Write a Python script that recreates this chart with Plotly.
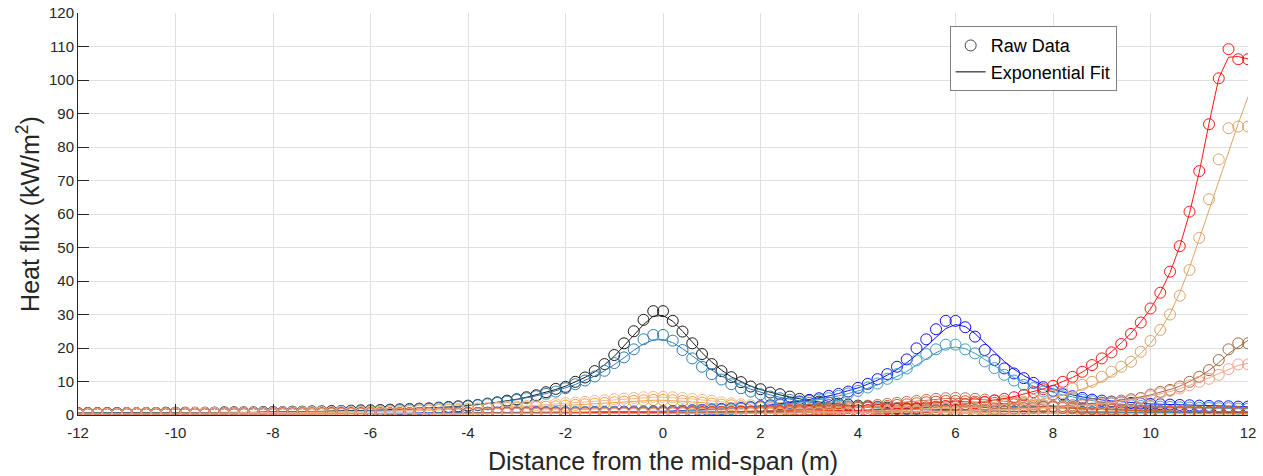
import plotly.graph_objects as go

# ---------------- data ----------------
# distance grid (m), 0.2 m spacing from -12 to 12
distance_m = [round(-12 + 0.2 * i, 1) for i in range(121)]

x_tick_values = [-12, -10, -8, -6, -4, -2, 0, 2, 4, 6, 8, 10, 12]
x_tick_labels = ["-12", "-10", "-8", "-6", "-4", "-2", "0", "2", "4", "6", "8", "10", "12"]
y_tick_values = [0, 10, 20, 30, 40, 50, 60, 70, 80, 90, 100, 110, 120]

black_raw = [
    0.6, 0.6, 0.6, 0.6, 0.6, 0.6, 0.6, 0.6, 0.6, 0.7,
    0.7, 0.7, 0.7, 0.7, 0.7, 0.8, 0.8, 0.8, 0.8, 0.9,
    0.9, 0.9, 1.0, 1.0, 1.1, 1.1, 1.2, 1.2, 1.3, 1.4,
    1.4, 1.5, 1.6, 1.7, 1.8, 1.9, 2.0, 2.2, 2.4, 2.6,
    2.8, 3.0, 3.4, 3.8, 4.3, 4.7, 5.3, 5.9, 6.8, 7.8,
    8.4, 9.9, 11.2, 13.1, 15.2, 17.9, 21.4, 25.0, 28.4, 31.0,
    31.0, 28.1, 24.9, 21.4, 18.2, 15.2, 13.1, 11.3, 9.8, 8.5,
    7.7, 6.7, 6.2, 5.5, 4.8, 4.4, 4.0, 3.7, 3.4, 3.1,
    2.8, 2.6, 2.4, 2.2, 2.0, 1.9, 1.8, 1.7, 1.6, 1.5,
    1.4, 1.3, 1.3, 1.2, 1.2, 1.1, 1.1, 1.0, 1.0, 1.0,
    0.9, 0.9, 0.9, 0.9, 0.8, 0.8, 0.8, 0.8, 0.8, 0.8,
    0.7, 0.7, 0.7, 0.7, 0.7, 0.7, 0.7, 0.7, 0.7, 0.7,
    0.7]
black_fit = [
    0.6, 0.6, 0.6, 0.6, 0.6, 0.6, 0.6, 0.6, 0.6, 0.7,
    0.7, 0.7, 0.7, 0.7, 0.7, 0.8, 0.8, 0.8, 0.8, 0.9,
    0.9, 0.9, 1.0, 1.0, 1.1, 1.1, 1.2, 1.2, 1.3, 1.4,
    1.4, 1.5, 1.6, 1.7, 1.8, 1.9, 2.0, 2.2, 2.4, 2.6,
    2.8, 3.1, 3.4, 3.8, 4.2, 4.7, 5.3, 6.0, 6.7, 7.6,
    8.6, 9.8, 11.2, 12.9, 15.0, 17.5, 20.5, 23.8, 27.0, 29.5,
    29.7, 28.0, 25.0, 21.8, 18.6, 15.8, 13.4, 11.4, 9.9, 8.6,
    7.6, 6.7, 6.0, 5.4, 4.8, 4.3, 3.9, 3.5, 3.2, 2.9,
    2.7, 2.5, 2.3, 2.1, 2.0, 1.9, 1.8, 1.7, 1.6, 1.5,
    1.4, 1.3, 1.3, 1.2, 1.2, 1.1, 1.1, 1.0, 1.0, 1.0,
    0.9, 0.9, 0.9, 0.9, 0.8, 0.8, 0.8, 0.8, 0.8, 0.8,
    0.7, 0.7, 0.7, 0.7, 0.7, 0.7, 0.7, 0.7, 0.7, 0.7,
    0.7]

steel_raw = [
    0.5, 0.5, 0.5, 0.5, 0.5, 0.5, 0.5, 0.6, 0.6, 0.6,
    0.6, 0.6, 0.6, 0.6, 0.7, 0.7, 0.7, 0.7, 0.7, 0.8,
    0.8, 0.8, 0.9, 0.9, 0.9, 1.0, 1.0, 1.1, 1.1, 1.2,
    1.2, 1.3, 1.4, 1.5, 1.6, 1.7, 1.8, 2.0, 2.2, 2.4,
    2.6, 2.9, 3.2, 3.6, 4.0, 4.5, 5.0, 5.6, 6.3, 7.0,
    8.0, 9.2, 10.3, 11.5, 13.2, 15.5, 17.2, 19.6, 22.6, 23.9,
    23.9, 22.2, 19.4, 16.9, 14.4, 12.2, 10.6, 9.2, 8.0, 7.0,
    6.2, 5.5, 5.0, 4.5, 4.0, 3.6, 3.3, 3.0, 2.8, 2.6,
    2.4, 2.2, 2.0, 1.9, 1.8, 1.7, 1.6, 1.5, 1.4, 1.3,
    1.3, 1.2, 1.2, 1.1, 1.1, 1.0, 1.0, 1.0, 0.9, 0.9,
    0.9, 0.9, 0.8, 0.8, 0.8, 0.8, 0.8, 0.7, 0.7, 0.7,
    0.7, 0.7, 0.7, 0.7, 0.6, 0.6, 0.6, 0.6, 0.6, 0.6,
    0.6]
steel_fit = [
    0.5, 0.5, 0.5, 0.5, 0.5, 0.5, 0.5, 0.6, 0.6, 0.6,
    0.6, 0.6, 0.6, 0.6, 0.7, 0.7, 0.7, 0.7, 0.7, 0.8,
    0.8, 0.8, 0.9, 0.9, 0.9, 1.0, 1.0, 1.1, 1.1, 1.2,
    1.2, 1.3, 1.4, 1.5, 1.6, 1.7, 1.8, 2.0, 2.2, 2.4,
    2.7, 3.0, 3.3, 3.7, 4.1, 4.6, 5.1, 5.7, 6.4, 7.2,
    8.1, 9.1, 10.3, 11.6, 13.2, 15.0, 17.1, 19.3, 21.2, 22.4,
    22.5, 21.6, 19.8, 17.6, 15.4, 13.4, 11.6, 10.1, 8.8, 7.7,
    6.8, 6.0, 5.3, 4.7, 4.2, 3.8, 3.4, 3.1, 2.8, 2.6,
    2.4, 2.2, 2.0, 1.9, 1.8, 1.7, 1.6, 1.5, 1.4, 1.3,
    1.3, 1.2, 1.2, 1.1, 1.1, 1.0, 1.0, 1.0, 0.9, 0.9,
    0.9, 0.9, 0.8, 0.8, 0.8, 0.8, 0.8, 0.7, 0.7, 0.7,
    0.7, 0.7, 0.7, 0.7, 0.6, 0.6, 0.6, 0.6, 0.6, 0.6,
    0.6]

orange_raw = [
    0.4, 0.4, 0.4, 0.4, 0.4, 0.4, 0.4, 0.4, 0.4, 0.4,
    0.5, 0.5, 0.5, 0.5, 0.5, 0.5, 0.5, 0.5, 0.6, 0.6,
    0.6, 0.6, 0.6, 0.7, 0.7, 0.7, 0.8, 0.8, 0.9, 0.9,
    1.0, 1.0, 1.1, 1.1, 1.2, 1.3, 1.4, 1.5, 1.6, 1.6,
    1.7, 1.8, 1.9, 2.0, 2.1, 2.2, 2.3, 2.4, 2.5, 2.6,
    2.8, 3.0, 3.2, 3.4, 3.6, 3.8, 4.0, 4.2, 4.4, 4.5,
    4.5, 4.4, 4.2, 3.9, 3.7, 3.4, 3.1, 2.9, 2.6, 2.4,
    2.2, 2.0, 1.9, 1.7, 1.6, 1.5, 1.4, 1.3, 1.2, 1.1,
    1.0, 1.0, 0.9, 0.9, 0.8, 0.8, 0.8, 0.7, 0.7, 0.7,
    0.6, 0.6, 0.6, 0.6, 0.5, 0.5, 0.5, 0.5, 0.5, 0.5,
    0.4, 0.4, 0.4, 0.4, 0.4, 0.4, 0.4, 0.4, 0.4, 0.4,
    0.3, 0.3, 0.3, 0.3, 0.3, 0.3, 0.3, 0.3, 0.3, 0.3,
    0.3]
orange_fit = [
    0.4, 0.4, 0.4, 0.4, 0.4, 0.4, 0.4, 0.4, 0.4, 0.4,
    0.5, 0.5, 0.5, 0.5, 0.5, 0.5, 0.5, 0.5, 0.6, 0.6,
    0.6, 0.6, 0.6, 0.7, 0.7, 0.7, 0.8, 0.8, 0.9, 0.9,
    1.0, 1.0, 1.1, 1.1, 1.2, 1.3, 1.4, 1.5, 1.5, 1.6,
    1.7, 1.8, 1.9, 2.0, 2.1, 2.2, 2.3, 2.4, 2.5, 2.7,
    2.8, 3.0, 3.2, 3.4, 3.6, 3.8, 4.0, 4.2, 4.3, 4.4,
    4.4, 4.3, 4.1, 3.9, 3.7, 3.4, 3.1, 2.9, 2.6, 2.4,
    2.2, 2.0, 1.9, 1.7, 1.6, 1.5, 1.4, 1.3, 1.2, 1.1,
    1.0, 1.0, 0.9, 0.9, 0.8, 0.8, 0.8, 0.7, 0.7, 0.7,
    0.6, 0.6, 0.6, 0.6, 0.5, 0.5, 0.5, 0.5, 0.5, 0.5,
    0.4, 0.4, 0.4, 0.4, 0.4, 0.4, 0.4, 0.4, 0.4, 0.4,
    0.3, 0.3, 0.3, 0.3, 0.3, 0.3, 0.3, 0.3, 0.3, 0.3,
    0.3]

peach_raw = [
    0.4, 0.4, 0.4, 0.4, 0.4, 0.5, 0.5, 0.5, 0.5, 0.5,
    0.5, 0.5, 0.6, 0.6, 0.6, 0.6, 0.6, 0.7, 0.7, 0.7,
    0.7, 0.8, 0.8, 0.8, 0.9, 0.9, 0.9, 1.0, 1.0, 1.0,
    1.0, 1.1, 1.1, 1.2, 1.3, 1.4, 1.5, 1.6, 1.7, 1.8,
    1.9, 2.0, 2.1, 2.2, 2.4, 2.5, 2.7, 2.9, 3.1, 3.3,
    3.5, 3.7, 3.9, 4.2, 4.4, 4.7, 4.9, 5.1, 5.3, 5.4,
    5.4, 5.3, 5.1, 4.8, 4.5, 4.2, 3.8, 3.5, 3.2, 2.9,
    2.6, 2.4, 2.2, 2.0, 1.8, 1.7, 1.6, 1.5, 1.4, 1.3,
    1.2, 1.1, 1.1, 1.0, 1.0, 0.9, 0.9, 0.9, 0.8, 0.8,
    0.8, 0.7, 0.7, 0.7, 0.7, 0.6, 0.6, 0.6, 0.6, 0.6,
    0.5, 0.5, 0.5, 0.5, 0.5, 0.5, 0.5, 0.5, 0.5, 0.5,
    0.5, 0.5, 0.5, 0.4, 0.4, 0.4, 0.4, 0.4, 0.4, 0.4,
    0.4]
peach_fit = [
    0.4, 0.4, 0.4, 0.4, 0.4, 0.5, 0.5, 0.5, 0.5, 0.5,
    0.5, 0.5, 0.6, 0.6, 0.6, 0.6, 0.6, 0.7, 0.7, 0.7,
    0.7, 0.8, 0.8, 0.8, 0.9, 0.9, 0.9, 1.0, 1.0, 1.0,
    1.0, 1.1, 1.1, 1.2, 1.3, 1.4, 1.5, 1.6, 1.7, 1.8,
    1.9, 2.0, 2.1, 2.2, 2.4, 2.5, 2.7, 2.9, 3.1, 3.3,
    3.5, 3.7, 3.9, 4.1, 4.4, 4.6, 4.8, 5.0, 5.2, 5.3,
    5.3, 5.2, 5.0, 4.8, 4.5, 4.2, 3.8, 3.5, 3.2, 2.9,
    2.6, 2.4, 2.2, 2.0, 1.8, 1.7, 1.6, 1.5, 1.4, 1.3,
    1.2, 1.1, 1.1, 1.0, 1.0, 0.9, 0.9, 0.9, 0.8, 0.8,
    0.8, 0.7, 0.7, 0.7, 0.7, 0.6, 0.6, 0.6, 0.6, 0.6,
    0.5, 0.5, 0.5, 0.5, 0.5, 0.5, 0.5, 0.5, 0.5, 0.5,
    0.5, 0.5, 0.5, 0.4, 0.4, 0.4, 0.4, 0.4, 0.4, 0.4,
    0.4]

blue_raw = [
    0.3, 0.3, 0.3, 0.3, 0.3, 0.3, 0.3, 0.3, 0.3, 0.3,
    0.3, 0.3, 0.3, 0.3, 0.3, 0.4, 0.4, 0.4, 0.4, 0.4,
    0.4, 0.4, 0.4, 0.4, 0.4, 0.4, 0.5, 0.5, 0.5, 0.5,
    0.5, 0.5, 0.5, 0.5, 0.5, 0.6, 0.6, 0.6, 0.6, 0.6,
    0.6, 0.6, 0.7, 0.7, 0.7, 0.7, 0.7, 0.8, 0.8, 0.8,
    0.8, 0.8, 0.8, 0.9, 0.9, 0.9, 1.0, 1.0, 1.0, 1.1,
    1.1, 1.2, 1.3, 1.4, 1.5, 1.6, 1.8, 1.9, 2.1, 2.3,
    2.6, 2.9, 3.2, 3.6, 4.0, 4.5, 5.0, 5.7, 6.3, 7.0,
    8.1, 9.3, 10.7, 12.2, 14.4, 16.6, 19.9, 22.6, 25.6, 28.1,
    28.1, 26.2, 23.4, 19.4, 16.4, 13.9, 12.4, 11.0, 9.6, 8.3,
    7.2, 6.2, 5.6, 5.1, 4.6, 4.3, 4.0, 3.8, 3.6, 3.4,
    3.3, 3.2, 3.1, 3.0, 2.9, 2.8, 2.7, 2.6, 2.6, 2.5,
    2.5]
blue_fit = [
    0.3, 0.3, 0.3, 0.3, 0.3, 0.3, 0.3, 0.3, 0.3, 0.3,
    0.3, 0.3, 0.3, 0.3, 0.3, 0.4, 0.4, 0.4, 0.4, 0.4,
    0.4, 0.4, 0.4, 0.4, 0.4, 0.4, 0.5, 0.5, 0.5, 0.5,
    0.5, 0.5, 0.5, 0.5, 0.5, 0.6, 0.6, 0.6, 0.6, 0.6,
    0.6, 0.6, 0.7, 0.7, 0.7, 0.7, 0.7, 0.8, 0.8, 0.8,
    0.8, 0.8, 0.8, 0.9, 0.9, 0.9, 1.0, 1.0, 1.0, 1.1,
    1.1, 1.2, 1.3, 1.4, 1.5, 1.6, 1.8, 1.9, 2.1, 2.3,
    2.6, 2.9, 3.3, 3.7, 4.1, 4.6, 5.1, 5.7, 6.4, 7.2,
    8.1, 9.2, 10.4, 11.9, 13.6, 15.6, 17.9, 20.5, 23.3, 25.8,
    27.0, 26.4, 24.3, 21.5, 18.6, 16.0, 13.7, 11.8, 10.2, 8.8,
    7.7, 6.8, 6.0, 5.4, 4.9, 4.5, 4.2, 3.9, 3.7, 3.5,
    3.3, 3.2, 3.1, 3.0, 2.9, 2.8, 2.7, 2.6, 2.6, 2.5,
    2.5]

teal_raw = [
    0.3, 0.3, 0.3, 0.3, 0.3, 0.3, 0.3, 0.3, 0.3, 0.3,
    0.3, 0.3, 0.3, 0.3, 0.3, 0.3, 0.3, 0.4, 0.4, 0.4,
    0.4, 0.4, 0.4, 0.4, 0.4, 0.4, 0.4, 0.5, 0.5, 0.5,
    0.5, 0.5, 0.5, 0.5, 0.5, 0.5, 0.6, 0.6, 0.6, 0.6,
    0.6, 0.6, 0.6, 0.7, 0.7, 0.7, 0.7, 0.7, 0.8, 0.8,
    0.8, 0.8, 0.8, 0.8, 0.9, 0.9, 0.9, 1.0, 1.0, 1.0,
    1.0, 1.1, 1.2, 1.3, 1.4, 1.5, 1.6, 1.7, 1.9, 2.1,
    2.4, 2.7, 3.0, 3.4, 3.8, 4.2, 4.6, 5.0, 5.7, 6.4,
    7.2, 8.2, 9.4, 10.8, 12.2, 13.9, 16.3, 18.2, 19.6, 21.0,
    21.0, 19.6, 18.4, 16.0, 14.0, 12.0, 10.3, 9.0, 8.0, 7.0,
    6.2, 5.6, 5.0, 4.5, 4.1, 3.7, 3.4, 3.1, 2.9, 2.7,
    2.6, 2.5, 2.4, 2.3, 2.2, 2.1, 2.1, 2.0, 2.0, 1.9,
    1.9]
teal_fit = [
    0.3, 0.3, 0.3, 0.3, 0.3, 0.3, 0.3, 0.3, 0.3, 0.3,
    0.3, 0.3, 0.3, 0.3, 0.3, 0.3, 0.3, 0.4, 0.4, 0.4,
    0.4, 0.4, 0.4, 0.4, 0.4, 0.4, 0.4, 0.5, 0.5, 0.5,
    0.5, 0.5, 0.5, 0.5, 0.5, 0.5, 0.6, 0.6, 0.6, 0.6,
    0.6, 0.6, 0.6, 0.7, 0.7, 0.7, 0.7, 0.7, 0.8, 0.8,
    0.8, 0.8, 0.8, 0.8, 0.9, 0.9, 0.9, 1.0, 1.0, 1.0,
    1.0, 1.1, 1.2, 1.3, 1.4, 1.5, 1.6, 1.7, 1.9, 2.1,
    2.4, 2.7, 3.0, 3.3, 3.7, 4.1, 4.6, 5.1, 5.7, 6.4,
    7.1, 8.0, 9.0, 10.2, 11.5, 13.0, 14.8, 16.8, 18.6, 19.9,
    20.3, 19.8, 18.4, 16.6, 14.6, 12.8, 11.2, 9.8, 8.6, 7.6,
    6.7, 6.0, 5.4, 4.8, 4.3, 3.9, 3.5, 3.2, 3.0, 2.8,
    2.6, 2.5, 2.4, 2.3, 2.2, 2.1, 2.1, 2.0, 2.0, 1.9,
    1.9]

rosy_raw = [
    0.3, 0.3, 0.3, 0.3, 0.3, 0.3, 0.3, 0.3, 0.3, 0.3,
    0.3, 0.3, 0.3, 0.3, 0.3, 0.3, 0.3, 0.3, 0.3, 0.3,
    0.4, 0.4, 0.4, 0.4, 0.4, 0.4, 0.4, 0.4, 0.4, 0.4,
    0.4, 0.4, 0.4, 0.5, 0.5, 0.5, 0.5, 0.5, 0.5, 0.5,
    0.6, 0.6, 0.6, 0.6, 0.6, 0.6, 0.6, 0.6, 0.6, 0.6,
    0.6, 0.6, 0.7, 0.7, 0.7, 0.7, 0.7, 0.8, 0.8, 0.8,
    0.8, 0.8, 0.9, 0.9, 0.9, 1.0, 1.0, 1.0, 1.1, 1.1,
    1.2, 1.3, 1.4, 1.5, 1.6, 1.7, 1.9, 2.0, 2.2, 2.4,
    2.6, 2.8, 3.0, 3.3, 3.6, 3.9, 4.2, 4.5, 4.8, 5.0,
    5.1, 5.0, 4.8, 4.6, 4.4, 4.1, 3.8, 3.5, 3.2, 2.9,
    2.7, 2.5, 2.3, 2.1, 1.9, 1.8, 1.7, 1.6, 1.5, 1.4,
    1.3, 1.2, 1.2, 1.1, 1.1, 1.0, 1.0, 1.0, 0.9, 0.9,
    0.9]
rosy_fit = [
    0.3, 0.3, 0.3, 0.3, 0.3, 0.3, 0.3, 0.3, 0.3, 0.3,
    0.3, 0.3, 0.3, 0.3, 0.3, 0.3, 0.3, 0.3, 0.3, 0.3,
    0.4, 0.4, 0.4, 0.4, 0.4, 0.4, 0.4, 0.4, 0.4, 0.4,
    0.4, 0.4, 0.4, 0.5, 0.5, 0.5, 0.5, 0.5, 0.5, 0.5,
    0.6, 0.6, 0.6, 0.6, 0.6, 0.6, 0.6, 0.6, 0.6, 0.6,
    0.6, 0.6, 0.7, 0.7, 0.7, 0.7, 0.7, 0.8, 0.8, 0.8,
    0.8, 0.8, 0.9, 0.9, 0.9, 1.0, 1.0, 1.0, 1.1, 1.1,
    1.2, 1.3, 1.4, 1.5, 1.6, 1.7, 1.9, 2.0, 2.2, 2.4,
    2.6, 2.8, 3.0, 3.3, 3.6, 3.9, 4.2, 4.4, 4.7, 4.9,
    5.0, 4.9, 4.8, 4.6, 4.4, 4.1, 3.8, 3.5, 3.2, 2.9,
    2.7, 2.5, 2.3, 2.1, 1.9, 1.8, 1.7, 1.6, 1.5, 1.4,
    1.3, 1.2, 1.2, 1.1, 1.1, 1.0, 1.0, 1.0, 0.9, 0.9,
    0.9]

darkorange_raw = [
    0.3, 0.3, 0.3, 0.3, 0.3, 0.3, 0.3, 0.3, 0.3, 0.3,
    0.3, 0.3, 0.3, 0.3, 0.3, 0.3, 0.3, 0.3, 0.3, 0.3,
    0.3, 0.3, 0.3, 0.3, 0.3, 0.4, 0.4, 0.4, 0.4, 0.4,
    0.4, 0.4, 0.4, 0.4, 0.4, 0.4, 0.4, 0.4, 0.4, 0.4,
    0.5, 0.5, 0.5, 0.5, 0.5, 0.5, 0.5, 0.5, 0.5, 0.5,
    0.5, 0.5, 0.6, 0.6, 0.6, 0.6, 0.6, 0.7, 0.7, 0.7,
    0.7, 0.7, 0.8, 0.8, 0.8, 0.9, 0.9, 0.9, 1.0, 1.0,
    1.0, 1.1, 1.2, 1.3, 1.4, 1.5, 1.6, 1.7, 1.8, 2.0,
    2.1, 2.3, 2.5, 2.7, 3.0, 3.2, 3.5, 3.8, 4.0, 4.2,
    4.2, 4.1, 4.0, 3.8, 3.6, 3.4, 3.2, 2.9, 2.7, 2.5,
    2.3, 2.1, 2.0, 1.8, 1.7, 1.6, 1.5, 1.4, 1.3, 1.2,
    1.1, 1.1, 1.0, 1.0, 1.0, 0.9, 0.9, 0.9, 0.9, 0.8,
    0.8]
darkorange_fit = [
    0.3, 0.3, 0.3, 0.3, 0.3, 0.3, 0.3, 0.3, 0.3, 0.3,
    0.3, 0.3, 0.3, 0.3, 0.3, 0.3, 0.3, 0.3, 0.3, 0.3,
    0.3, 0.3, 0.3, 0.3, 0.3, 0.4, 0.4, 0.4, 0.4, 0.4,
    0.4, 0.4, 0.4, 0.4, 0.4, 0.4, 0.4, 0.4, 0.4, 0.4,
    0.5, 0.5, 0.5, 0.5, 0.5, 0.5, 0.5, 0.5, 0.5, 0.5,
    0.5, 0.5, 0.6, 0.6, 0.6, 0.6, 0.6, 0.7, 0.7, 0.7,
    0.7, 0.7, 0.8, 0.8, 0.8, 0.9, 0.9, 0.9, 1.0, 1.0,
    1.0, 1.1, 1.2, 1.3, 1.4, 1.5, 1.6, 1.7, 1.8, 2.0,
    2.1, 2.3, 2.5, 2.7, 2.9, 3.2, 3.4, 3.7, 3.9, 4.1,
    4.1, 4.0, 3.9, 3.8, 3.6, 3.4, 3.2, 2.9, 2.7, 2.5,
    2.3, 2.1, 2.0, 1.8, 1.7, 1.6, 1.5, 1.4, 1.3, 1.2,
    1.1, 1.1, 1.0, 1.0, 1.0, 0.9, 0.9, 0.9, 0.9, 0.8,
    0.8]

red_raw = [
    0.3, 0.3, 0.3, 0.3, 0.3, 0.3, 0.3, 0.3, 0.3, 0.3,
    0.3, 0.3, 0.3, 0.3, 0.3, 0.3, 0.3, 0.3, 0.3, 0.3,
    0.3, 0.3, 0.3, 0.3, 0.3, 0.4, 0.4, 0.4, 0.4, 0.4,
    0.4, 0.4, 0.4, 0.4, 0.4, 0.4, 0.4, 0.4, 0.4, 0.4,
    0.4, 0.4, 0.4, 0.5, 0.5, 0.5, 0.5, 0.5, 0.5, 0.5,
    0.5, 0.5, 0.6, 0.6, 0.6, 0.6, 0.6, 0.6, 0.6, 0.7,
    0.7, 0.7, 0.7, 0.7, 0.8, 0.8, 0.8, 0.8, 0.9, 0.9,
    0.9, 1.0, 1.0, 1.0, 1.1, 1.1, 1.2, 1.2, 1.3, 1.3,
    1.4, 1.5, 1.6, 1.7, 1.8, 2.0, 2.1, 2.3, 2.5, 2.7,
    2.9, 3.2, 3.5, 3.9, 4.3, 4.8, 5.3, 6.0, 6.8, 7.7,
    8.7, 9.9, 11.4, 12.9, 14.9, 16.9, 18.7, 21.2, 24.2, 27.6,
    31.8, 36.5, 42.8, 50.4, 60.7, 72.8, 86.8, 100.5, 109.2, 106.2,
    106.2]
red_fit = [
    0.3, 0.3, 0.3, 0.3, 0.3, 0.3, 0.3, 0.3, 0.3, 0.3,
    0.3, 0.3, 0.3, 0.3, 0.3, 0.3, 0.3, 0.3, 0.3, 0.3,
    0.3, 0.3, 0.3, 0.3, 0.3, 0.4, 0.4, 0.4, 0.4, 0.4,
    0.4, 0.4, 0.4, 0.4, 0.4, 0.4, 0.4, 0.4, 0.4, 0.4,
    0.4, 0.4, 0.4, 0.5, 0.5, 0.5, 0.5, 0.5, 0.5, 0.5,
    0.5, 0.5, 0.6, 0.6, 0.6, 0.6, 0.6, 0.6, 0.6, 0.7,
    0.7, 0.7, 0.7, 0.7, 0.8, 0.8, 0.8, 0.8, 0.9, 0.9,
    0.9, 1.0, 1.0, 1.0, 1.1, 1.1, 1.2, 1.2, 1.3, 1.3,
    1.4, 1.5, 1.6, 1.7, 1.8, 2.0, 2.1, 2.3, 2.5, 2.7,
    3.0, 3.3, 3.6, 4.0, 4.4, 4.9, 5.5, 6.2, 7.0, 7.8,
    8.8, 9.9, 11.2, 12.8, 14.6, 16.6, 18.9, 21.5, 24.4, 27.8,
    31.7, 36.5, 42.5, 50.3, 60.2, 72.5, 87.0, 100.5, 106.8, 107.0,
    106.3]

tan_raw = [
    0.3, 0.3, 0.3, 0.3, 0.3, 0.3, 0.3, 0.3, 0.3, 0.3,
    0.3, 0.3, 0.3, 0.3, 0.3, 0.3, 0.3, 0.3, 0.3, 0.3,
    0.3, 0.3, 0.3, 0.3, 0.3, 0.3, 0.3, 0.3, 0.3, 0.3,
    0.4, 0.4, 0.4, 0.4, 0.4, 0.4, 0.4, 0.4, 0.4, 0.4,
    0.4, 0.4, 0.4, 0.4, 0.4, 0.4, 0.4, 0.4, 0.4, 0.4,
    0.5, 0.5, 0.5, 0.5, 0.5, 0.5, 0.5, 0.5, 0.5, 0.5,
    0.5, 0.5, 0.6, 0.6, 0.6, 0.6, 0.7, 0.7, 0.7, 0.7,
    0.8, 0.8, 0.8, 0.9, 0.9, 0.9, 1.0, 1.0, 1.0, 1.0,
    1.0, 1.1, 1.1, 1.2, 1.3, 1.4, 1.5, 1.6, 1.7, 1.8,
    1.9, 2.0, 2.2, 2.4, 2.7, 3.0, 3.4, 3.9, 4.5, 5.2,
    5.9, 6.6, 7.9, 9.0, 9.9, 11.4, 12.9, 14.4, 15.9, 18.9,
    22.1, 25.4, 30.0, 35.6, 43.3, 52.9, 64.4, 76.3, 85.6, 86.1,
    86.1]
tan_fit = [
    0.3, 0.3, 0.3, 0.3, 0.3, 0.3, 0.3, 0.3, 0.3, 0.3,
    0.3, 0.3, 0.3, 0.3, 0.3, 0.3, 0.3, 0.3, 0.3, 0.3,
    0.3, 0.3, 0.3, 0.3, 0.3, 0.3, 0.3, 0.3, 0.3, 0.3,
    0.4, 0.4, 0.4, 0.4, 0.4, 0.4, 0.4, 0.4, 0.4, 0.4,
    0.4, 0.4, 0.4, 0.4, 0.4, 0.4, 0.4, 0.4, 0.4, 0.4,
    0.5, 0.5, 0.5, 0.5, 0.5, 0.5, 0.5, 0.5, 0.5, 0.5,
    0.5, 0.5, 0.6, 0.6, 0.6, 0.6, 0.7, 0.7, 0.7, 0.7,
    0.8, 0.8, 0.8, 0.9, 0.9, 0.9, 1.0, 1.0, 1.0, 1.0,
    1.0, 1.1, 1.1, 1.2, 1.3, 1.4, 1.5, 1.6, 1.7, 1.8,
    1.9, 2.1, 2.3, 2.5, 2.8, 3.1, 3.5, 3.9, 4.3, 4.8,
    5.2, 5.9, 6.7, 7.7, 8.8, 10.1, 11.7, 13.6, 15.8, 18.4,
    21.4, 25.3, 30.2, 36.5, 44.0, 52.5, 61.3, 70.0, 78.5, 87.0,
    95.0]

brown_raw = [
    0.3, 0.3, 0.3, 0.3, 0.3, 0.3, 0.3, 0.3, 0.3, 0.3,
    0.3, 0.3, 0.3, 0.3, 0.3, 0.3, 0.3, 0.3, 0.3, 0.3,
    0.4, 0.4, 0.4, 0.4, 0.4, 0.4, 0.4, 0.4, 0.4, 0.4,
    0.4, 0.4, 0.4, 0.4, 0.4, 0.4, 0.4, 0.4, 0.4, 0.4,
    0.5, 0.5, 0.5, 0.5, 0.5, 0.5, 0.5, 0.5, 0.5, 0.5,
    0.5, 0.5, 0.5, 0.5, 0.5, 0.5, 0.5, 0.5, 0.5, 0.5,
    0.6, 0.6, 0.6, 0.6, 0.6, 0.6, 0.6, 0.6, 0.6, 0.6,
    0.6, 0.6, 0.7, 0.7, 0.7, 0.7, 0.8, 0.8, 0.8, 0.8,
    0.8, 0.8, 0.9, 0.9, 1.0, 1.0, 1.1, 1.1, 1.2, 1.2,
    1.3, 1.4, 1.5, 1.6, 1.7, 1.8, 1.9, 2.0, 2.2, 2.4,
    2.5, 2.7, 2.9, 3.1, 3.3, 3.6, 3.9, 4.3, 4.7, 5.1,
    6.1, 6.9, 7.5, 8.5, 9.9, 11.4, 13.4, 16.4, 19.6, 21.4,
    21.4]
brown_fit = [
    0.3, 0.3, 0.3, 0.3, 0.3, 0.3, 0.3, 0.3, 0.3, 0.3,
    0.3, 0.3, 0.3, 0.3, 0.3, 0.3, 0.3, 0.3, 0.3, 0.3,
    0.4, 0.4, 0.4, 0.4, 0.4, 0.4, 0.4, 0.4, 0.4, 0.4,
    0.4, 0.4, 0.4, 0.4, 0.4, 0.4, 0.4, 0.4, 0.4, 0.4,
    0.5, 0.5, 0.5, 0.5, 0.5, 0.5, 0.5, 0.5, 0.5, 0.5,
    0.5, 0.5, 0.5, 0.5, 0.5, 0.5, 0.5, 0.5, 0.5, 0.5,
    0.6, 0.6, 0.6, 0.6, 0.6, 0.6, 0.6, 0.6, 0.6, 0.6,
    0.6, 0.6, 0.7, 0.7, 0.7, 0.7, 0.8, 0.8, 0.8, 0.8,
    0.8, 0.8, 0.9, 0.9, 1.0, 1.0, 1.1, 1.1, 1.2, 1.2,
    1.3, 1.4, 1.5, 1.6, 1.7, 1.8, 1.9, 2.0, 2.2, 2.4,
    2.5, 2.7, 2.9, 3.1, 3.4, 3.7, 4.0, 4.4, 4.9, 5.4,
    6.0, 6.7, 7.6, 8.6, 9.9, 11.4, 13.3, 15.6, 18.3, 20.4,
    22.3]

salmon_raw = [
    0.3, 0.3, 0.3, 0.3, 0.3, 0.3, 0.3, 0.3, 0.3, 0.3,
    0.3, 0.3, 0.3, 0.3, 0.3, 0.3, 0.3, 0.3, 0.3, 0.3,
    0.3, 0.3, 0.3, 0.3, 0.3, 0.3, 0.3, 0.3, 0.3, 0.3,
    0.4, 0.4, 0.4, 0.4, 0.4, 0.4, 0.4, 0.4, 0.4, 0.4,
    0.4, 0.4, 0.4, 0.4, 0.4, 0.4, 0.4, 0.4, 0.4, 0.4,
    0.4, 0.4, 0.4, 0.4, 0.4, 0.4, 0.4, 0.4, 0.4, 0.4,
    0.5, 0.5, 0.5, 0.5, 0.5, 0.5, 0.5, 0.5, 0.5, 0.5,
    0.5, 0.5, 0.6, 0.6, 0.6, 0.6, 0.7, 0.7, 0.7, 0.7,
    0.8, 0.8, 0.8, 0.9, 0.9, 0.9, 1.0, 1.0, 1.0, 1.1,
    1.1, 1.2, 1.3, 1.4, 1.5, 1.6, 1.7, 1.8, 1.9, 2.0,
    2.2, 2.4, 2.6, 2.8, 3.0, 3.3, 3.6, 3.9, 4.3, 4.9,
    5.6, 6.4, 7.2, 7.9, 8.9, 9.9, 10.8, 12.0, 13.7, 15.1,
    15.1]
salmon_fit = [
    0.3, 0.3, 0.3, 0.3, 0.3, 0.3, 0.3, 0.3, 0.3, 0.3,
    0.3, 0.3, 0.3, 0.3, 0.3, 0.3, 0.3, 0.3, 0.3, 0.3,
    0.3, 0.3, 0.3, 0.3, 0.3, 0.3, 0.3, 0.3, 0.3, 0.3,
    0.4, 0.4, 0.4, 0.4, 0.4, 0.4, 0.4, 0.4, 0.4, 0.4,
    0.4, 0.4, 0.4, 0.4, 0.4, 0.4, 0.4, 0.4, 0.4, 0.4,
    0.4, 0.4, 0.4, 0.4, 0.4, 0.4, 0.4, 0.4, 0.4, 0.4,
    0.5, 0.5, 0.5, 0.5, 0.5, 0.5, 0.5, 0.5, 0.5, 0.5,
    0.5, 0.5, 0.6, 0.6, 0.6, 0.6, 0.7, 0.7, 0.7, 0.7,
    0.8, 0.8, 0.8, 0.9, 0.9, 0.9, 1.0, 1.0, 1.0, 1.1,
    1.1, 1.2, 1.3, 1.4, 1.5, 1.6, 1.7, 1.8, 1.9, 2.0,
    2.2, 2.4, 2.6, 2.8, 3.1, 3.4, 3.7, 4.1, 4.5, 5.0,
    5.6, 6.2, 7.0, 7.8, 8.8, 9.9, 11.1, 12.4, 13.7, 14.8,
    15.4]

# (raw, fit, colour) in drawing order
series = [
    (black_raw, black_fit, "#1a1a1a"),
    (steel_raw, steel_fit, "#2f7db3"),
    (orange_raw, orange_fit, "#eea62a"),
    (peach_raw, peach_fit, "#f3b59a"),
    (blue_raw, blue_fit, "#1010ff"),
    (teal_raw, teal_fit, "#3d9dc2"),
    (rosy_raw, rosy_fit, "#bd7158"),
    (darkorange_raw, darkorange_fit, "#d95319"),
    (red_raw, red_fit, "#ff1414"),
    (tan_raw, tan_fit, "#dea468"),
    (brown_raw, brown_fit, "#9e6a45"),
    (salmon_raw, salmon_fit, "#f4a48a"),
]

for raw, fit, _ in series:
    assert len(raw) == len(distance_m), len(raw)
    assert len(fit) == len(distance_m), len(fit)

# ---------------- figure ----------------
FONT = "Liberation Sans, Arial, Helvetica, sans-serif"
fig = go.Figure()

for raw, fit, color in series:
    fig.add_trace(go.Scatter(
        x=distance_m, y=raw, mode="markers", showlegend=False,
        marker=dict(symbol="circle-open", size=11, color=color,
                    line=dict(width=1, color=color)),
    ))
    fig.add_trace(go.Scatter(
        x=distance_m, y=fit, mode="lines", showlegend=False,
        line=dict(color=color, width=1),
    ))

# legend entries
fig.add_trace(go.Scatter(
    x=[None], y=[None], mode="markers", name="Raw Data",
    marker=dict(symbol="circle-open", size=11, color="#404040",
                line=dict(width=1, color="#404040")),
))
fig.add_trace(go.Scatter(
    x=[None], y=[None], mode="lines", name="Exponential Fit",
    line=dict(color="#000000", width=1),
))

fig.update_layout(
    width=1263, height=476,
    margin=dict(l=78, r=15, t=13, b=61),
    paper_bgcolor="white", plot_bgcolor="white",
    font=dict(family=FONT, color="#262626", size=15),
    showlegend=True,
    legend=dict(
        x=0.745, y=0.967, xanchor="left", yanchor="top",
        bgcolor="white", bordercolor="#7f7f7f", borderwidth=1,
        font=dict(family=FONT, size=18, color="#000000"),
        tracegroupgap=0, itemwidth=30,
    ),
)

fig.update_xaxes(
    range=[-12, 12], tickmode="array", tickvals=x_tick_values, ticktext=x_tick_labels,
    showgrid=True, gridcolor="#e0e0e0", gridwidth=1, zeroline=False,
    showline=True, linecolor="#262626", linewidth=1,
    ticks="inside", ticklen=11, tickcolor="#262626",
    tickfont=dict(size=15, color="#262626"), ticklabelstandoff=4,
    ticklabeloverflow="allow",
    title=dict(text="Distance from the mid-span (m)", font=dict(size=25, color="#262626"), standoff=12),
    automargin=False,
)
fig.update_yaxes(
    range=[0, 120], tickmode="array", tickvals=y_tick_values,
    showgrid=True, gridcolor="#e0e0e0", gridwidth=1, zeroline=False,
    showline=True, linecolor="#262626", linewidth=1,
    ticks="inside", ticklen=11, tickcolor="#262626",
    tickfont=dict(size=15, color="#262626"),
    ticklabeloverflow="allow",
    title=dict(text="Heat flux (kW/m<sup>2</sup>)", font=dict(size=25, color="#262626"), standoff=2),
    automargin=False,
)

# remove the default 8 px page margin so the figure fills the window exactly
fig.write_html(
    "out.html",
    config={"displayModeBar": False},
    post_script="document.body.style.margin='0px';",
)
